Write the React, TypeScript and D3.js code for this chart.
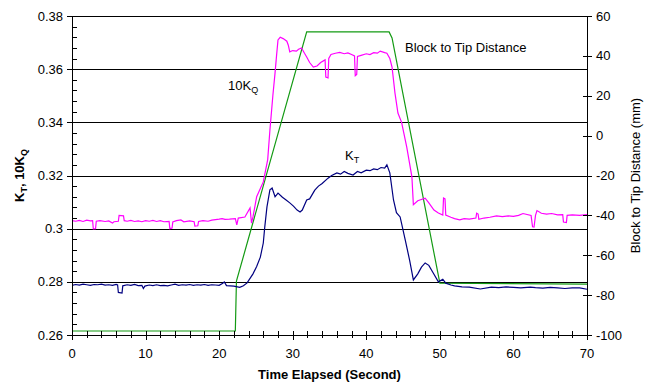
import React from "react";
import * as d3 from "d3";

const xTicks = [0, 10, 20, 30, 40, 50, 60, 70];
const leftTicks = [0.26, 0.28, 0.3, 0.32, 0.34, 0.36, 0.38];
const leftTickLabels = ["0.26", "0.28", "0.3", "0.32", "0.34", "0.36", "0.38"];
const rightTicks = [-100, -80, -60, -40, -20, 0, 20, 40, 60];

// KT (left axis)
const ktData: [number, number][] = [
  [0, 0.2787], [0.5, 0.279], [1, 0.2788], [1.5, 0.2791], [2, 0.2789], [2.5, 0.2787], [3, 0.279], [3.5, 0.2789],
  [4, 0.2791], [4.5, 0.2788], [5, 0.2789], [5.5, 0.2787], [6, 0.279], [6.2, 0.2788], [6.3, 0.276], [6.8, 0.2758],
  [6.9, 0.2785], [7.5, 0.2789], [8, 0.2787], [8.5, 0.279], [9, 0.2786], [9.5, 0.2787], [9.7, 0.2775], [9.9, 0.2784],
  [10.5, 0.2788], [11, 0.2786], [11.5, 0.2789], [12, 0.2786], [12.5, 0.2787], [13, 0.2785], [13.5, 0.2788],
  [14, 0.2791], [14.5, 0.2787], [15, 0.2789], [15.5, 0.2788], [16, 0.279], [16.5, 0.2787], [17, 0.2789],
  [17.5, 0.2788], [18, 0.279], [18.5, 0.2787], [19, 0.2789], [19.5, 0.2788], [20, 0.2787], [20.5, 0.2795],
  [20.7, 0.28], [21, 0.2786], [21.5, 0.2785], [22, 0.2784], [22.8, 0.2779], [23.3, 0.2785], [23.8, 0.2796],
  [24.6, 0.283], [25.1, 0.2858], [25.6, 0.2893], [26, 0.2946], [26.2, 0.3006], [26.5, 0.3082], [26.9, 0.3146],
  [27.2, 0.3153], [27.6, 0.312], [28, 0.3134], [28.6, 0.3118], [29.1, 0.3108], [29.6, 0.3097], [30.1, 0.3085],
  [30.6, 0.307], [31, 0.3063], [31.3, 0.307], [31.9, 0.3108], [32.3, 0.3112], [33, 0.3145], [33.5, 0.316],
  [34, 0.317], [34.8, 0.319], [35.3, 0.32], [36, 0.321], [36.5, 0.3205], [37, 0.3215], [37.5, 0.3208],
  [38.2, 0.3202], [38.8, 0.3215], [39.3, 0.321], [40, 0.322], [40.5, 0.3218], [41, 0.3225], [41.5, 0.3222],
  [42, 0.323], [42.5, 0.3228], [42.8, 0.324], [43.2, 0.321], [43.7, 0.3108], [44.1, 0.306], [44.6, 0.3044],
  [45.3, 0.2957], [45.9, 0.288], [46.4, 0.2807], [47, 0.283], [47.5, 0.2855], [48, 0.2871], [48.5, 0.2862],
  [49.1, 0.2833], [49.8, 0.28], [50.4, 0.281], [50.8, 0.2795], [51.5, 0.2788], [52, 0.2785], [53, 0.2781],
  [54, 0.278], [55.5, 0.2773], [57, 0.278], [58, 0.2778], [59, 0.2781], [60, 0.2779], [61, 0.2777], [62.3, 0.278],
  [63, 0.2778], [64, 0.2776], [65, 0.2779], [66, 0.2777], [67, 0.2775], [68, 0.2777], [69, 0.2777], [70, 0.2772],
];

// 10KQ (left axis)
const kqData: [number, number][] = [
  [0, 0.303], [0.5, 0.3028], [1, 0.3031], [1.5, 0.3027], [2, 0.3032], [2.5, 0.3029], [2.8, 0.303], [2.9, 0.2999],
  [3.2, 0.3], [3.3, 0.3028], [3.8, 0.303], [4.5, 0.3027], [5, 0.3029], [5.5, 0.3021], [5.7, 0.3026], [6.3, 0.3028],
  [6.4, 0.305], [7, 0.3048], [7.1, 0.303], [7.5, 0.3028], [8, 0.3031], [8.5, 0.3027], [9, 0.3029], [9.5, 0.3026],
  [10, 0.303], [10.5, 0.3028], [11, 0.3031], [11.5, 0.3027], [12, 0.303], [12.5, 0.3026], [13.2, 0.3027],
  [13.3, 0.3], [13.6, 0.3002], [13.7, 0.3025], [14.2, 0.303], [14.8, 0.3033], [15.2, 0.3026], [16, 0.3029],
  [16.6, 0.3026], [16.7, 0.301], [17.1, 0.3011], [17.2, 0.3027], [17.8, 0.303], [18.5, 0.3028], [19, 0.3032],
  [19.5, 0.3034], [20, 0.3036], [20.4, 0.3038], [20.8, 0.3035], [21.4, 0.3036], [22.2, 0.3038], [22.4, 0.3014],
  [22.6, 0.304], [23.5, 0.3044], [24.2, 0.3078], [24.4, 0.3021], [24.6, 0.3044], [25.1, 0.312], [26, 0.3176],
  [26.6, 0.326], [26.9, 0.337], [27.3, 0.35], [27.6, 0.3586], [27.8, 0.365], [28, 0.371], [28.3, 0.372],
  [28.7, 0.3715], [29.2, 0.3705], [29.4, 0.369], [29.6, 0.3665], [30, 0.367], [30.5, 0.3668], [30.8, 0.3675],
  [31.2, 0.368], [31.6, 0.366], [31.9, 0.3646], [32.3, 0.3625], [32.8, 0.3608], [33.3, 0.3612], [33.8, 0.3625],
  [34.4, 0.3635], [34.5, 0.357], [34.8, 0.3567], [34.9, 0.364], [35.2, 0.3655], [35.8, 0.366], [36.4, 0.3663],
  [37, 0.3658], [37.5, 0.3661], [38, 0.3655], [38.4, 0.365], [38.5, 0.3575], [38.7, 0.358], [38.8, 0.3648],
  [39.3, 0.3652], [40, 0.3658], [40.5, 0.3655], [41, 0.3662], [41.5, 0.366], [41.9, 0.3668], [42.5, 0.3662],
  [42.8, 0.366], [43.2, 0.364], [43.5, 0.3608], [43.9, 0.351], [44.3, 0.3435], [44.8, 0.34], [45.5, 0.3307],
  [46.2, 0.3195], [46.4, 0.309], [47, 0.3105], [48, 0.3115], [48.5, 0.3097], [49.2, 0.307], [49.8, 0.3059],
  [50.4, 0.3051], [50.5, 0.3115], [50.7, 0.3112], [50.8, 0.3051], [51.5, 0.3043], [52, 0.3038], [52.7, 0.3033],
  [53.3, 0.3038], [54, 0.3036], [54.9, 0.304], [55, 0.3058], [55.2, 0.3055], [55.3, 0.3035], [56, 0.304],
  [56.8, 0.3043], [57.7, 0.3048], [58.5, 0.3045], [59.3, 0.3048], [60, 0.3046], [60.7, 0.305], [61.3, 0.3057],
  [62.4, 0.305], [62.6, 0.3007], [62.8, 0.3006], [63, 0.305], [63.2, 0.3068], [63.8, 0.3058], [64.5, 0.3055],
  [65.2, 0.3057], [66, 0.3052], [66.7, 0.3053], [66.8, 0.3025], [67.2, 0.3023], [67.3, 0.305], [68, 0.3052],
  [69, 0.305], [70, 0.3053],
];

// Block to Tip Distance (right axis, mm)
const distData: [number, number][] = [
  [0, -98], [22.2, -98], [22.35, -73], [31.9, 52], [43.1, 52], [43.5, 49], [50, -74], [70, -74.5],
];

const W = 655;
const H = 383;
const M = { left: 72, right: 587, top: 16, bottom: 335 };
const FONT = "Arial, 'Liberation Sans', Helvetica, sans-serif";

export default function App() {
  const x = d3.scaleLinear().domain([0, 70]).range([M.left, M.right]);
  const yL = d3.scaleLinear().domain([0.26, 0.38]).range([M.bottom, M.top]);
  const yR = d3.scaleLinear().domain([-100, 60]).range([M.bottom, M.top]);

  const lineL = d3.line<[number, number]>().x((d) => x(d[0])).y((d) => yL(d[1]));
  const lineR = d3.line<[number, number]>().x((d) => x(d[0])).y((d) => yR(d[1]));

  const leftMinor = d3.range(0.26, 0.3801, 0.004).filter((v) => Math.abs((v - 0.26) / 0.02 - Math.round((v - 0.26) / 0.02)) > 1e-6);
  const xMinor = d3.range(0, 70.01, 2).filter((v) => v % 10 !== 0);

  return (
    <svg width={W} height={H} style={{ position: "absolute", left: 0, top: 0, background: "#fff" }} fontFamily={FONT}>
      <rect x={0} y={0} width={W} height={H} fill="#fff" />
      {leftTicks.map((t) => (
        <line key={"g" + t} x1={M.left} x2={M.right} y1={Math.round(yL(t)) + 0.5} y2={Math.round(yL(t)) + 0.5} stroke="#000" strokeWidth={1} />
      ))}
      <path d={lineR(distData) || ""} fill="none" stroke="#139a13" strokeWidth={1.2} />
      <path d={lineL(kqData) || ""} fill="none" stroke="#ff00ff" strokeWidth={1.2} />
      <path d={lineL(ktData) || ""} fill="none" stroke="#000080" strokeWidth={1.2} />

      <line x1={M.left + 0.5} x2={M.left + 0.5} y1={M.top} y2={M.bottom} stroke="#000" />
      {leftTicks.map((t, i) => (
        <g key={"lt" + t}>
          <line x1={M.left - 5} x2={M.left} y1={Math.round(yL(t)) + 0.5} y2={Math.round(yL(t)) + 0.5} stroke="#000" />
          <text x={M.left - 9} y={yL(t)} dy="0.35em" textAnchor="end" fontSize={13} fill="#000">
            {leftTickLabels[i]}
          </text>
        </g>
      ))}
      {leftMinor.map((t) => (
        <line key={"lm" + t} x1={M.left} x2={M.left + 5} y1={Math.round(yL(t)) + 0.5} y2={Math.round(yL(t)) + 0.5} stroke="#000" />
      ))}

      <line x1={M.right + 0.5} x2={M.right + 0.5} y1={M.top} y2={M.bottom} stroke="#000" />
      {rightTicks.map((t) => (
        <g key={"rt" + t}>
          <line x1={M.right - 4} x2={M.right + 5} y1={Math.round(yR(t)) + 0.5} y2={Math.round(yR(t)) + 0.5} stroke="#000" />
          <text x={M.right + 9} y={yR(t)} dy="0.35em" textAnchor="start" fontSize={13} fill="#000">
            {t}
          </text>
        </g>
      ))}

      <line x1={M.left} x2={M.right + 1} y1={M.bottom + 0.5} y2={M.bottom + 0.5} stroke="#000" />
      {xTicks.map((t) => (
        <g key={"xt" + t}>
          <line x1={Math.round(x(t)) + 0.5} x2={Math.round(x(t)) + 0.5} y1={M.bottom - 4} y2={M.bottom + 5} stroke="#000" />
          <text x={x(t)} y={M.bottom + 23} textAnchor="middle" fontSize={13} fill="#000">
            {t}
          </text>
        </g>
      ))}
      {xMinor.map((t) => (
        <line key={"xm" + t} x1={Math.round(x(t)) + 0.5} x2={Math.round(x(t)) + 0.5} y1={M.bottom - 4} y2={M.bottom + 3} stroke="#000" />
      ))}

      <text x={(M.left + M.right) / 2} y={379} textAnchor="middle" fontSize={13} fontWeight="bold" fill="#000">
        Time Elapsed (Second)
      </text>
      <text transform={`translate(24, ${(M.top + M.bottom) / 2}) rotate(-90)`} textAnchor="middle" fontSize={13} fontWeight="bold" fill="#000">
        K<tspan fontSize={9} dy={3}>T</tspan>
        <tspan dy={-3}>, 10K</tspan>
        <tspan fontSize={9} dy={3}>Q</tspan>
      </text>
      <text transform={`translate(640, ${(M.top + M.bottom) / 2}) rotate(-90)`} textAnchor="middle" fontSize={13} fill="#000">
        Block to Tip Distance (mm)
      </text>

      <text x={228} y={90} fontSize={13} fill="#000">
        10K<tspan fontSize={9} dy={3}>Q</tspan>
      </text>
      <text x={345} y={160} fontSize={13} fill="#000">
        K<tspan fontSize={9} dy={3}>T</tspan>
      </text>
      <text x={405} y={52} fontSize={13} fill="#000">
        Block to Tip Distance
      </text>
    </svg>
  );
}
